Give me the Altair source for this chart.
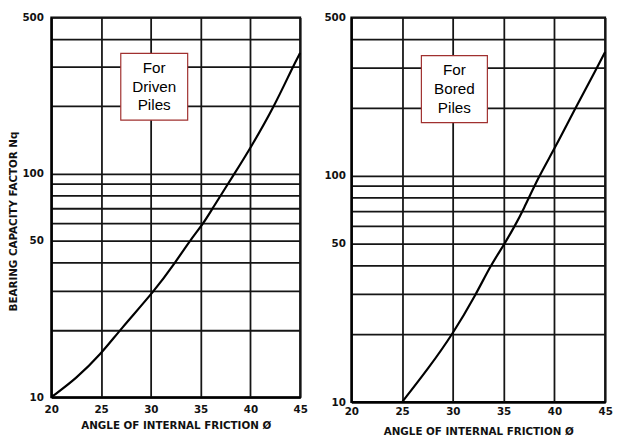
import altair as alt
import pandas as pd

# ---- data ----
phi_ticks = [20, 25, 30, 35, 40, 45]
nq_grid = [10, 20, 30, 40, 50, 60, 70, 80, 90, 100, 200, 300, 400, 500]
nq_labels = [10, 50, 100, 500]

driven_phi = [20, 22.5, 25, 26.9, 30.4, 32.45, 33.9, 35.3, 36.2, 38.4, 40, 42.4, 44.25, 45]
driven_nq = [10, 12.1, 15.6, 20, 30, 40, 50, 60, 70, 100, 130, 200, 300, 347]

bored_phi = [25, 27.6, 30, 32.3, 33.7, 35.1, 36.1, 36.9, 38.5, 40, 42.1, 44.2, 45]
bored_nq = [10, 14.1, 20, 30, 40, 50, 60, 70, 100, 131, 200, 300, 352]

panel_labels = ["For\nDriven\nPiles", "For\nBored\nPiles"]
box_phi = [[26.98, 33.7], [26.9, 33.4]]
box_nq = [[173.5, 345], [171.6, 339]]

x_title = "ANGLE OF INTERNAL FRICTION Ø"
y_title = "BEARING CAPACITY FACTOR Nq"

label_expr = ("indexof([" + ",".join(str(v) for v in nq_labels) +
              "], datum.value) >= 0 ? format(datum.value, 'd') : ''")


def panel(phi, nq, label, bx, by, w, h, ytitle, xlabpad, xtitlepad, ylabpad):
    curve = pd.DataFrame({"phi": phi, "nq": nq})
    box = pd.DataFrame({
        "x1": [bx[0]], "x2": [bx[1]], "y1": [by[0]], "y2": [by[1]],
        "xc": [(bx[0] + bx[1]) / 2], "yc": [(by[0] * by[1]) ** 0.5], "t": [label],
    })
    xs = alt.Scale(domain=[20, 45], nice=False, zero=False)
    ys = alt.Scale(type="log", domain=[10, 500], nice=False)
    yaxis_kw = dict(values=nq_grid, labelExpr=label_expr, labelPadding=ylabpad)
    if ytitle:
        yaxis_kw.update(title=ytitle, titlePadding=3, titleY=207)
    else:
        yaxis_kw.update(title="")
    line = alt.Chart(curve).mark_line(
        color="black", strokeWidth=2.2, interpolate="basis"
    ).encode(
        x=alt.X("phi:Q", scale=xs,
                axis=alt.Axis(values=phi_ticks, title=x_title,
                              labelPadding=xlabpad, titlePadding=xtitlepad)),
        y=alt.Y("nq:Q", scale=ys, axis=alt.Axis(**yaxis_kw)),
    )
    rect = alt.Chart(box).mark_rect(
        fill="white", stroke="#a0302f", strokeWidth=1.2
    ).encode(
        x=alt.X("x1:Q", scale=xs), x2="x2:Q",
        y=alt.Y("y1:Q", scale=ys), y2="y2:Q",
    )
    text = alt.Chart(box).mark_text(
        font="Liberation Sans", fontSize=15.5, lineHeight=19, dy=-19,
        lineBreak="\n", align="center", baseline="middle", color="black"
    ).encode(
        x=alt.X("xc:Q", scale=xs),
        y=alt.Y("yc:Q", scale=ys),
        text="t:N",
    )
    return alt.layer(line, rect, text).properties(width=w, height=h)


left = panel(driven_phi, driven_nq, panel_labels[0], box_phi[0], box_nq[0],
             253, 386, y_title, 8, 5, 8)
right = panel(bored_phi, bored_nq, panel_labels[1], box_phi[1], box_nq[1],
              258, 391, None, 5, 9, 6)

chart = alt.hconcat(left, right, spacing=52, bounds="flush").resolve_scale(
    x="independent", y="independent"
).properties(
    padding=0, background="white"
).configure_axis(
    domain=True, domainColor="black", domainWidth=2,
    ticks=False, grid=True, gridColor="#151515", gridWidth=1.8, gridOpacity=1,
    labelFont="DejaVu Sans", labelFontWeight="bold", labelFontSize=10.5,
    labelColor="#111", titleFont="DejaVu Sans", titleFontWeight="bold",
    titleFontSize=10.5, titleColor="#111", labelOverlap=False, labelFlush=False,
).configure_view(stroke="black", strokeWidth=2)

chart.save("out.html", embed_options={"renderer": "svg", "actions": False})
